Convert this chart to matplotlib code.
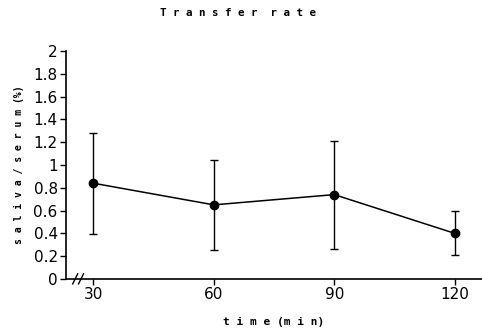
import matplotlib
matplotlib.use("Agg")
import matplotlib.pyplot as plt
import numpy as np

# data
time_min = [30, 60, 90, 120]
ratio = [0.84, 0.65, 0.74, 0.40]
err_hi = [1.28, 1.04, 1.21, 0.60]
err_lo = [0.39, 0.25, 0.26, 0.21]
yticks = [0, 0.2, 0.4, 0.6, 0.8, 1, 1.2, 1.4, 1.6, 1.8, 2]
ytick_labels = ["0", "0.2", "0.4", "0.6", "0.8", "1", "1.2", "1.4", "1.6", "1.8", "2"]

mono = "DejaVu Sans Mono"

fig = plt.figure(figsize=(4.82, 3.34), dpi=100)
ax = fig.add_axes([0.137, 0.165, 0.863, 0.682])

y = np.asarray(ratio)
yerr = [y - np.asarray(err_lo), np.asarray(err_hi) - y]
ax.errorbar(time_min, ratio, yerr=yerr, fmt="-o", color="black",
            markersize=6, linewidth=1.1, elinewidth=1.0, capsize=3,
            capthick=1.0)

ax.set_xlim(23.2, 126.8)
ax.set_ylim(0, 2)
ax.set_xticks(time_min)
ax.set_yticks(yticks)
ax.set_yticklabels(ytick_labels)
ax.tick_params(axis="both", direction="out", length=4, width=1.0,
               labelsize=11, pad=2)

for s in ("top", "right"):
    ax.spines[s].set_visible(False)
ax.spines["left"].set_linewidth(1.2)
ax.spines["bottom"].set_linewidth(1.2)

# axis break mark near the origin
for dx in (0.022, 0.036):
    ax.plot([dx - 0.006, dx + 0.006], [-0.022, 0.022], color="black",
            linewidth=1.0, transform=ax.transAxes, clip_on=False)

fig.text(238 / 482, 1 - 13 / 334, "T r a n s f e r  r a t e",
         fontfamily=mono, fontweight="bold", fontsize=7.8,
         ha="center", va="center")
ax.set_xlabel("t i m e (m i n)", fontfamily=mono, fontweight="bold",
              fontsize=8)
ax.xaxis.set_label_coords(0.5, -0.165)
ax.set_ylabel("s a l i v a / s e r u m (%)", fontfamily=mono,
              fontweight="bold", fontsize=7)
ax.yaxis.set_label_coords(-0.1, 0.5)

fig.savefig("out.png", dpi=100)
